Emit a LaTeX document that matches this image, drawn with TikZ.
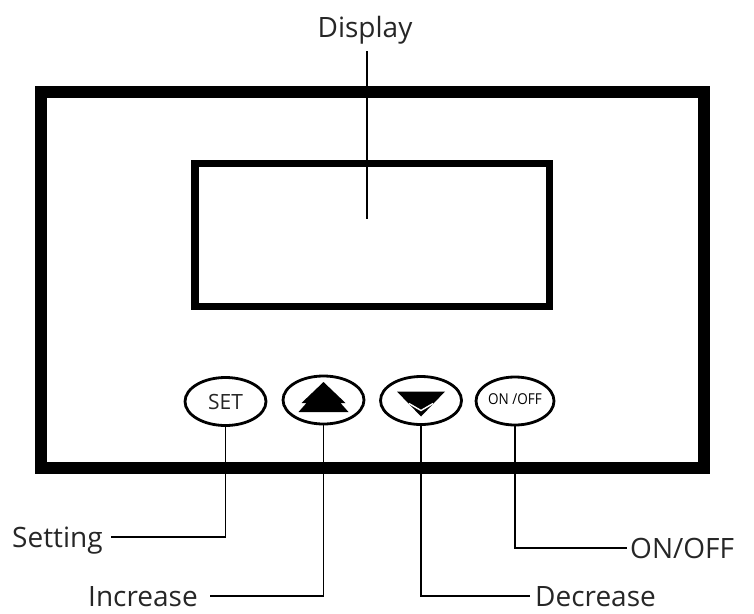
\documentclass[tikz,border=0pt]{standalone}
\usepackage{fontspec}
\setmainfont{Open Sans}
\usetikzlibrary{shapes.geometric}
\definecolor{txt}{HTML}{262626}
\begin{document}
\begin{tikzpicture}[x=1pt,y=-1pt,
  lbl/.style={inner sep=0pt, text height=20pt, text depth=0pt, font=\fontsize{28}{30}\selectfont, text=txt},
  btn/.style={draw, ellipse, line width=2.8pt, minimum width=81pt, minimum height=48pt, inner sep=0pt},
  wire/.style={line width=1.8pt},
  ]
\useasboundingbox (0,0) rectangle (754,613);
% panel and screen
\node[draw, line width=12pt, minimum width=663.5pt, minimum height=376pt, inner sep=0pt] (panel) at (372.25,279.5) {};
\node[draw, line width=7.5pt, minimum width=354.5pt, minimum height=143pt, inner sep=0pt] (screen) at (372.25,235) {};
% buttons
\node[btn, font=\fontsize{21}{21}\selectfont, text=txt] (bset) at (225.5,401.5) {\raisebox{-2pt}{SET}};
\node[btn] (bup) at (323.5,400) {};
\node[btn] (bdown) at (421,400.5) {};
\node[btn, minimum width=78pt, font=\fontsize{15}{15}\selectfont] (bonoff) at (515,401) {\raisebox{3pt}{\scalebox{0.9}[1]{ON /OFF}}};
\begin{scope}[shift={(bup)}]
  \fill (0,-18) -- (-22,3) -- (-17,3) -- (-25,12) -- (25,12) -- (17,3) -- (22,3) -- cycle;
\end{scope}
\begin{scope}[shift={(bdown)}]
  \fill (-24,-9) -- (24,-9) -- (0,16) -- cycle;
  \draw[white, line width=1.4pt] (-12,3) -- (0,10) -- (12,3);
\end{scope}
% labels
\node[lbl, anchor=base] (disp) at (365,37) {Display};
\node[lbl, anchor=base west] (setting) at (12,547) {Setting};
\node[lbl, anchor=base west] (increase) at (88,606) {Increase};
\node[lbl, anchor=base west] (decrease) at (535,606) {Decrease};
\node[lbl, anchor=base west] (onoff) at (630,558) {ON/OFF};
\coordinate (dispend) at (367,219);
% connectors
\draw[wire] (367,51) coordinate (dispstart) -- (dispend);
\draw[wire, shorten >=8pt] (bset.south) |- (setting.east);
\draw[wire, shorten >=12pt] (bup.south) |- (increase.east);
\draw[wire, shorten >=5pt] (bdown.south) |- (decrease.west);
\draw[wire, shorten >=3pt] (bonoff.south) |- (onoff.west);
\end{tikzpicture}
\end{document}
